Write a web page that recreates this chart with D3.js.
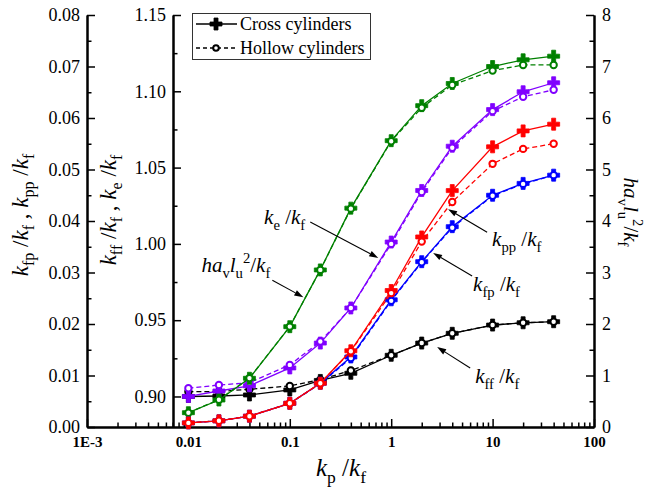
<!DOCTYPE html>
<html>
<head>
<meta charset="utf-8">
<script src="https://d3js.org/d3.v7.min.js"></script>
</head>
<body style="margin:0; background:#fff">
<div id="chart"></div>
<script>
// kp/kf values (x)
const kpRatio = [0.01, 0.02, 0.04, 0.1, 0.2, 0.4, 1, 2, 4, 10, 20, 40];

// kff/kf and ke/kf (inner left axis)
const kffCross = [0.900, 0.9003, 0.901, 0.9043, 0.9105, 0.9152, 0.927, 0.935, 0.9414, 0.9468, 0.9483, 0.949];
const kffHollow = [0.9031, 0.9033, 0.9047, 0.9069, 0.911, 0.917, 0.927, 0.935, 0.9414, 0.9468, 0.9483, 0.949];
const keCross = [0.900, 0.9036, 0.907, 0.9187, 0.935, 0.958, 1.0012, 1.035, 1.064, 1.088, 1.0997, 1.1056];
const keHollow = [0.9054, 0.9075, 0.909, 0.9207, 0.936, 0.958, 1.0, 1.034, 1.063, 1.087, 1.0964, 1.101];

// ha_v l_u^2 / kf (right axis)
const havCross = [0.278, 0.524, 0.946, 1.948, 3.05, 4.25, 5.56, 6.24, 6.67, 7.0, 7.13, 7.2];
const havHollow = [0.278, 0.53, 0.95, 1.95, 3.05, 4.24, 5.55, 6.2, 6.64, 6.92, 7.03, 7.03];

// kpp/kf and kfp/kf (outer left axis)
const kppCross = [0.0008, 0.0012, 0.0021, 0.0046, 0.0085, 0.0148, 0.0265, 0.0369, 0.0459, 0.0544, 0.0575, 0.0588];
const kppHollow = [0.0008, 0.0012, 0.0021, 0.0046, 0.0085, 0.0147, 0.026, 0.036, 0.0437, 0.0511, 0.054, 0.055];
const kfpCross = [0.0008, 0.0012, 0.0021, 0.0046, 0.0085, 0.0136, 0.0247, 0.0321, 0.0389, 0.045, 0.0473, 0.0489];
const kfpHollow = [0.0008, 0.0012, 0.0021, 0.0046, 0.0084, 0.0134, 0.0245, 0.032, 0.0387, 0.0449, 0.0472, 0.0489];

// ticks
const xTickValues = [0.001, 0.01, 0.1, 1, 10, 100];
const xTickLabels = ['1E-3', '0.01', '0.1', '1', '10', '100'];
const outerTicks = [0, 0.01, 0.02, 0.03, 0.04, 0.05, 0.06, 0.07, 0.08];
const innerTicks = [0.90, 0.95, 1.00, 1.05, 1.10, 1.15];
const rightTicks = [0, 1, 2, 3, 4, 5, 6, 7, 8];

const width = 646;
const height = 490;
const plotLeft = 87, plotRight = 594, plotTop = 15, plotBottom = 427;
const innerAxisX = 173;
const serif = 'Liberation Serif';

const svg = d3.select('#chart')
  .append('svg')
  .attr('width', width)
  .attr('height', height)
  .style('display', 'block')
  .attr('font-family', serif);

const x = d3.scaleLog().domain([0.001, 100]).range([plotLeft, plotRight]);
const yOuter = d3.scaleLinear().domain([0, 0.08]).range([plotBottom, plotTop]);
const yInner = d3.scaleLinear().domain([0.88, 1.15]).range([plotBottom, plotTop]);
const yRight = d3.scaleLinear().domain([0, 8]).range([plotBottom, plotTop]);

// text with italics / subscripts / superscripts
const addRich = (textSel, parts, size) => {
  textSel.attr('font-family', serif);
  let shift = 0;
  parts.forEach(([txt, kind]) => {
    const target = kind === 'sub' ? 0.28 * size : kind === 'sup' ? -0.42 * size : 0;
    const ts = textSel.append('tspan').attr('dy', target - shift).text(txt);
    shift = target;
    if (kind === 'sub' || kind === 'sup') ts.attr('font-size', size * 0.7);
    if (kind === 'i') ts.attr('font-style', 'italic');
  });
  return textSel;
};

const styleAxis = (g, fontSize) => {
  g.attr('font-family', serif);
  g.select('.domain').attr('stroke-width', 2);
  g.selectAll('.tick line').attr('stroke-width', 1.5);
  g.selectAll('.tick text').attr('font-size', fontSize).attr('font-family', serif).attr('fill', '#000');
};

const halfSteps = (ticks) => ticks.slice(0, -1).map((t, i) => (t + ticks[i + 1]) / 2);

// X axis with minor ticks
const xMinor = [];
[0.001, 0.01, 0.1, 1, 10].forEach(d => { for (let k = 2; k <= 9; k++) xMinor.push(d * k); });

svg.append('g')
  .attr('transform', `translate(0, ${plotBottom})`)
  .call(d3.axisBottom(x).tickValues(xMinor).tickSizeInner(-4.5).tickSizeOuter(0).tickFormat(''))
  .call(g => styleAxis(g, 14));

svg.append('g')
  .attr('transform', `translate(0, ${plotBottom})`)
  .call(d3.axisBottom(x).tickValues(xTickValues).tickSizeInner(-8).tickSizeOuter(0).tickPadding(9)
    .tickFormat((d, i) => xTickLabels[i]))
  .call(g => styleAxis(g, 15))
  .call(g => g.selectAll('.tick text').attr('font-weight', 'bold'));

// Outer left axis
svg.append('g')
  .attr('transform', `translate(${plotLeft}, 0)`)
  .call(d3.axisLeft(yOuter).tickValues(halfSteps(outerTicks)).tickSizeInner(-4.5).tickSizeOuter(0).tickFormat(''))
  .call(g => styleAxis(g, 18));
svg.append('g')
  .attr('transform', `translate(${plotLeft}, 0)`)
  .call(d3.axisLeft(yOuter).tickValues(outerTicks).tickSizeInner(-8).tickSizeOuter(0).tickPadding(7)
    .tickFormat(d3.format('.2f')))
  .call(g => styleAxis(g, 18));

// Inner left axis
svg.append('g')
  .attr('transform', `translate(${innerAxisX}, 0)`)
  .call(d3.axisLeft(yInner).tickValues(halfSteps([0.875].concat(innerTicks)).slice(1)).tickSizeInner(-4.5).tickSizeOuter(0).tickFormat(''))
  .call(g => styleAxis(g, 18));
svg.append('g')
  .attr('transform', `translate(${innerAxisX}, 0)`)
  .call(d3.axisLeft(yInner).tickValues(innerTicks).tickSizeInner(-8).tickSizeOuter(0).tickPadding(7)
    .tickFormat(d3.format('.2f')))
  .call(g => styleAxis(g, 18));

// Right axis
svg.append('g')
  .attr('transform', `translate(${plotRight}, 0)`)
  .call(d3.axisRight(yRight).tickValues(halfSteps(rightTicks)).tickSizeInner(-4.5).tickSizeOuter(0).tickFormat(''))
  .call(g => styleAxis(g, 18));
svg.append('g')
  .attr('transform', `translate(${plotRight}, 0)`)
  .call(d3.axisRight(yRight).tickValues(rightTicks).tickSizeInner(-8).tickSizeOuter(0).tickPadding(8)
    .tickFormat(d3.format('d')))
  .call(g => styleAxis(g, 18));

// Series
const series = [
  { cross: kffCross, hollow: kffHollow, y: yInner, color: '#000000' },
  { cross: keCross, hollow: keHollow, y: yInner, color: '#8000ff' },
  { cross: havCross, hollow: havHollow, y: yRight, color: '#008000' },
  { cross: kfpCross, hollow: kfpHollow, y: yOuter, color: '#0000ff' },
  { cross: kppCross, hollow: kppHollow, y: yOuter, color: '#ff0000' }
];

const crossPath = d3.symbol().type(d3.symbolCross).size(80)();

series.forEach(s => {
  const line = d3.line().x((d, i) => x(kpRatio[i])).y(d => s.y(d));

  svg.append('path')
    .datum(s.hollow)
    .attr('d', line)
    .attr('fill', 'none')
    .attr('stroke', s.color)
    .attr('stroke-width', 1.3)
    .attr('stroke-dasharray', '5,3');

  svg.append('path')
    .datum(s.cross)
    .attr('d', line)
    .attr('fill', 'none')
    .attr('stroke', s.color)
    .attr('stroke-width', 1.3);

  svg.append('g').selectAll('path')
    .data(s.cross)
    .enter()
    .append('path')
    .attr('d', crossPath)
    .attr('transform', (d, i) => `translate(${x(kpRatio[i])}, ${s.y(d)})`)
    .attr('fill', s.color)
    .attr('stroke', s.color)
    .attr('stroke-width', 0.8)
    .attr('stroke-linejoin', 'round');

  svg.append('g').selectAll('circle')
    .data(s.hollow)
    .enter()
    .append('circle')
    .attr('cx', (d, i) => x(kpRatio[i]))
    .attr('cy', d => s.y(d))
    .attr('r', 3.2)
    .attr('fill', '#fff')
    .attr('stroke', s.color)
    .attr('stroke-width', 2);
});

// Annotations: arrow tip in data coords, start & label offsets in px
const annotations = [
  { kp: 0.745, v: 0.9908, y: yInner, start: [-68, -36], label: [-73, -34], anchor: 'end',
    parts: [['k', 'i'], ['e', 'sub'], [' /', ''], ['k', 'i'], ['f', 'sub']] },
  { kp: 0.136, v: 2.52, y: yRight, start: [-31, -17], label: [-33, -25], anchor: 'end',
    parts: [['h', 'i'], ['a', 'i'], ['v', 'sub'], ['l', 'i'], ['u', 'sub'], ['2', 'sup'], ['/', ''], ['k', 'i'], ['f', 'sub']] },
  { kp: 3.64, v: 0.0423, y: yOuter, start: [39, 23], label: [44, 37], anchor: 'start',
    parts: [['k', 'i'], ['pp', 'sub'], [' /', ''], ['k', 'i'], ['f', 'sub']] },
  { kp: 2.59, v: 0.0338, y: yOuter, start: [39, 23], label: [40, 38], anchor: 'start',
    parts: [['k', 'i'], ['fp', 'sub'], [' /', ''], ['k', 'i'], ['f', 'sub']] },
  { kp: 2.84, v: 0.9324, y: yInner, start: [33, 21], label: [38, 36], anchor: 'start',
    parts: [['k', 'i'], ['ff', 'sub'], [' /', ''], ['k', 'i'], ['f', 'sub']] }
];

annotations.forEach(a => {
  const tx = x(a.kp), ty = a.y(a.v);
  const sx = tx + a.start[0], sy = ty + a.start[1];
  const ang = Math.atan2(ty - sy, tx - sx);
  const hl = 9, hw = 3;
  const bx = tx - hl * Math.cos(ang), by = ty - hl * Math.sin(ang);

  svg.append('line')
    .attr('x1', sx).attr('y1', sy)
    .attr('x2', bx).attr('y2', by)
    .attr('stroke', '#000')
    .attr('stroke-width', 1.1);

  svg.append('path')
    .attr('d', `M${tx},${ty}L${bx + hw * Math.sin(ang)},${by - hw * Math.cos(ang)}L${bx - hw * Math.sin(ang)},${by + hw * Math.cos(ang)}Z`)
    .attr('fill', '#000');

  const t = svg.append('text')
    .attr('x', tx + a.label[0])
    .attr('y', ty + a.label[1])
    .attr('text-anchor', a.anchor)
    .attr('font-size', 21);
  addRich(t, a.parts, 21);
});

// Legend
const legend = svg.append('g');
legend.append('rect')
  .attr('x', 192.5).attr('y', 13.5)
  .attr('width', 178).attr('height', 46)
  .attr('fill', '#fff')
  .attr('stroke', '#333')
  .attr('stroke-width', 1);

const legendItems = [
  { label: 'Cross cylinders', dash: null, marker: 'cross' },
  { label: 'Hollow cylinders', dash: '4,3', marker: 'circle' }
];

legendItems.forEach((d, i) => {
  const ly = 24 + i * 24;
  legend.append('line')
    .attr('x1', 196).attr('x2', 237)
    .attr('y1', ly).attr('y2', ly)
    .attr('stroke', '#000')
    .attr('stroke-width', 1.3)
    .attr('stroke-dasharray', d.dash);
  if (d.marker === 'cross') {
    legend.append('path')
      .attr('d', crossPath)
      .attr('transform', `translate(216, ${ly})`)
      .attr('fill', '#000')
      .attr('stroke', '#000')
      .attr('stroke-width', 0.8);
  } else {
    legend.append('circle')
      .attr('cx', 216).attr('cy', ly).attr('r', 2.8)
      .attr('fill', '#fff')
      .attr('stroke', '#000')
      .attr('stroke-width', 2);
  }
  legend.append('text')
    .attr('x', 240)
    .attr('y', ly)
    .attr('dy', '0.35em')
    .attr('font-family', serif)
    .attr('font-size', 18)
    .text(d.label);
});

// Axis titles
const titleSize = 23;
addRich(svg.append('text')
  .attr('transform', 'translate(28, 215) rotate(-90)')
  .attr('text-anchor', 'middle')
  .attr('font-size', titleSize),
  [['k', 'i'], ['fp', 'sub'], [' /', ''], ['k', 'i'], ['f', 'sub'], [' ,  ', ''], ['k', 'i'], ['pp', 'sub'], [' /', ''], ['k', 'i'], ['f', 'sub']], titleSize);

addRich(svg.append('text')
  .attr('transform', 'translate(116, 210) rotate(-90)')
  .attr('text-anchor', 'middle')
  .attr('font-size', titleSize),
  [['k', 'i'], ['ff', 'sub'], [' /', ''], ['k', 'i'], ['f', 'sub'], [' , ', ''], ['k', 'i'], ['e', 'sub'], [' /', ''], ['k', 'i'], ['f', 'sub']], titleSize);

addRich(svg.append('text')
  .attr('transform', 'translate(624, 212) rotate(90)')
  .attr('text-anchor', 'middle')
  .attr('font-size', 21),
  [['h', 'i'], ['a', 'i'], ['v', 'sub'], ['l', 'i'], ['u', 'sub'], ['2', 'sup'], ['/', ''], ['k', 'i'], ['f', 'sub']], 21);

addRich(svg.append('text')
  .attr('x', 341)
  .attr('y', 476)
  .attr('text-anchor', 'middle')
  .attr('font-size', 25),
  [['k', 'i'], ['p', 'sub'], [' /', ''], ['k', 'i'], ['f', 'sub']], 25);
</script>
</body>
</html>
